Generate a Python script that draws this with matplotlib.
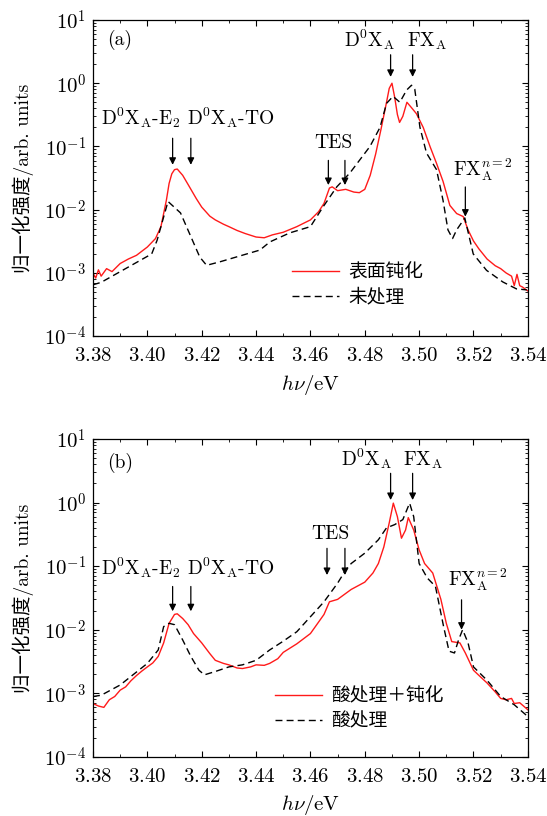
import math
import matplotlib
matplotlib.use('Agg')
import matplotlib.pyplot as plt
from matplotlib.ticker import MultipleLocator, FuncFormatter, LogLocator, NullFormatter

plt.rcParams['font.family'] = ['cmr10', 'Noto Sans CJK SC']
plt.rcParams['mathtext.fontset'] = 'cm'
plt.rcParams['axes.unicode_minus'] = False
plt.rcParams['axes.formatter.use_mathtext'] = True

# ---- panel (a) data ----
a_red_x = [3.380, 3.381, 3.382, 3.383, 3.385, 3.387, 3.390, 3.393, 3.396, 3.400,
           3.403, 3.405, 3.407, 3.408, 3.409, 3.410, 3.411, 3.413, 3.415, 3.418,
           3.420, 3.423, 3.425, 3.428, 3.430, 3.433, 3.436, 3.440, 3.443, 3.446,
           3.450, 3.455, 3.460, 3.463, 3.465, 3.467, 3.468, 3.470, 3.473, 3.476,
           3.478, 3.480, 3.482, 3.484, 3.486, 3.488, 3.489, 3.490, 3.491, 3.492,
           3.4928, 3.494, 3.4955, 3.497, 3.499, 3.5015, 3.504, 3.5064, 3.5088, 3.5113,
           3.5138, 3.5162, 3.518, 3.520, 3.522, 3.525, 3.528, 3.530, 3.532, 3.534,
           3.535, 3.536, 3.537, 3.538, 3.540]
a_red_y = [1.0e-3, 8.3e-4, 1.12e-3, 8.9e-4, 1.17e-3, 1.05e-3, 1.41e-3, 1.66e-3, 1.9e-3, 2.57e-3,
           3.5e-3, 5.4e-3, 0.0141, 0.026, 0.037, 0.043, 0.044, 0.035, 0.025, 0.015,
           0.011, 0.0079, 0.0069, 0.0059, 0.0054, 0.0047, 0.0042, 0.0037, 0.0036, 0.0040,
           0.0044, 0.0054, 0.0069, 0.0093, 0.0126, 0.022, 0.023, 0.020, 0.021, 0.019,
           0.0186, 0.021, 0.035, 0.076, 0.19, 0.50, 0.83, 1.0, 0.60, 0.32,
           0.24, 0.30, 0.50, 0.42, 0.33, 0.20, 0.10, 0.054, 0.028, 0.0117,
           0.0087, 0.0078, 0.0048, 0.0032, 0.0024, 0.00166, 0.0013, 0.00117, 1.0e-3, 8.9e-4,
           6.3e-4, 9.5e-4, 6.3e-4, 6.0e-4, 5.2e-4]

a_blk_x = [3.380, 3.383, 3.4016, 3.4036, 3.4076, 3.4122, 3.4193, 3.4218, 3.4267, 3.4414,
           3.4451, 3.4524, 3.460, 3.4646, 3.4697, 3.4745, 3.4819, 3.4856, 3.488, 3.4904,
           3.4929, 3.4954, 3.4972, 3.4984, 3.5003, 3.5027, 3.5064, 3.5088, 3.5106, 3.5123,
           3.5138, 3.5168, 3.5199, 3.5248, 3.5308, 3.5358, 3.5396]
a_blk_y = [6.5e-4, 7.1e-4, 2.0e-3, 3.3e-3, 0.0135, 0.0089, 1.78e-3, 1.32e-3, 1.5e-3, 2.3e-3,
           3.1e-3, 4.3e-3, 5.4e-3, 0.011, 0.023, 0.038, 0.10, 0.20, 0.48, 0.62,
           0.50, 0.78, 0.93, 0.80, 0.20, 0.079, 0.043, 0.014, 4.8e-3, 3.5e-3,
           4.8e-3, 7.4e-3, 2.0e-3, 1.1e-3, 7.2e-4, 5.6e-4, 5.4e-4]

# ---- panel (b) data ----
b_red_x = [3.380, 3.382, 3.384, 3.386, 3.388, 3.390, 3.392, 3.394, 3.396, 3.398,
           3.400, 3.402, 3.404, 3.406, 3.408, 3.410, 3.411, 3.413, 3.415, 3.417,
           3.420, 3.423, 3.425, 3.428, 3.430, 3.433, 3.435, 3.438, 3.440, 3.443,
           3.445, 3.448, 3.450, 3.455, 3.460, 3.465, 3.467, 3.470, 3.475, 3.480,
           3.483, 3.485, 3.487, 3.489, 3.4905, 3.492, 3.4935, 3.495, 3.496, 3.498,
           3.500, 3.502, 3.505, 3.508, 3.510, 3.512, 3.515, 3.517, 3.520, 3.523,
           3.525, 3.528, 3.530, 3.532, 3.534, 3.535, 3.537, 3.540]
b_red_y = [6.9e-4, 6.3e-4, 6.0e-4, 7.9e-4, 8.9e-4, 1.12e-3, 1.26e-3, 1.58e-3, 1.9e-3, 2.24e-3,
           2.6e-3, 3.0e-3, 3.8e-3, 6.2e-3, 0.0126, 0.0174, 0.0178, 0.015, 0.012, 8.7e-3,
           6.2e-3, 4.2e-3, 3.3e-3, 2.95e-3, 2.8e-3, 2.5e-3, 2.45e-3, 2.6e-3, 2.8e-3, 2.75e-3,
           2.95e-3, 3.5e-3, 4.4e-3, 6.0e-3, 8.7e-3, 0.0174, 0.0275, 0.030, 0.043, 0.056,
           0.078, 0.11, 0.20, 0.48, 0.98, 0.60, 0.275, 0.37, 0.58, 0.37,
           0.18, 0.11, 0.078, 0.030, 0.0126, 6.5e-3, 6.2e-3, 4.3e-3, 2.3e-3, 1.74e-3,
           1.45e-3, 1.05e-3, 8.3e-4, 7.9e-4, 8.3e-4, 6.9e-4, 7.1e-4, 5.5e-4]

b_blk_x = [3.380, 3.383, 3.390, 3.400, 3.404, 3.406, 3.408, 3.410, 3.413, 3.416,
           3.419, 3.421, 3.425, 3.430, 3.435, 3.440, 3.445, 3.450, 3.455, 3.460,
           3.465, 3.470, 3.473, 3.475, 3.480, 3.485, 3.488, 3.491, 3.494, 3.4965,
           3.498, 3.500, 3.503, 3.506, 3.509, 3.511, 3.513, 3.5145, 3.516, 3.518,
           3.520, 3.525, 3.530, 3.535, 3.540]
b_blk_y = [8.9e-4, 9.3e-4, 1.35e-3, 2.95e-3, 4.8e-3, 0.0112, 0.0126, 0.012, 6.9e-3, 3.8e-3,
           2.3e-3, 1.95e-3, 2.2e-3, 2.6e-3, 2.8e-3, 3.3e-3, 4.8e-3, 6.6e-3, 9.3e-3, 0.016,
           0.0275, 0.054, 0.087, 0.11, 0.16, 0.26, 0.40, 0.45, 0.54, 0.98,
           0.60, 0.11, 0.065, 0.048, 0.0112, 4.6e-3, 4.3e-3, 6.9e-3, 0.010, 6.2e-3,
           2.6e-3, 1.6e-3, 8.9e-4, 6.6e-4, 4.3e-4]

a_labels = ['表面钝化', '未处理']
b_labels = ['酸处理＋钝化', '酸处理']

FS_TICK = 15
FS_ANN = 14
FS_LAB = 14
FS_LEG = 13.5
CJK = ['Noto Sans CJK SC']


def arrow(ax, x, y0, y1):
    ax.annotate('', xy=(x, y1), xytext=(x, y0),
                arrowprops=dict(arrowstyle='-|>', color='k', lw=0.9,
                                mutation_scale=10, shrinkA=0, shrinkB=0))


def setup_axes(ax):
    ax.set_xlim(3.38, 3.54)
    ax.set_yscale('log')
    ax.set_ylim(1e-4, 1e1)
    ax.xaxis.set_major_locator(MultipleLocator(0.02))
    ax.xaxis.set_minor_locator(MultipleLocator(0.01))
    ax.xaxis.set_major_formatter(FuncFormatter(lambda v, p: f'${v:.2f}$'))
    ax.yaxis.set_major_locator(LogLocator(base=10, numticks=10))
    ax.yaxis.set_minor_locator(LogLocator(base=10, subs=range(2, 10), numticks=20))
    ax.yaxis.set_minor_formatter(NullFormatter())
    ax.yaxis.set_major_formatter(FuncFormatter(lambda v, p: r'$10^{%d}$' % round(math.log10(v))))
    ax.tick_params(which='both', direction='in', top=True, right=True, labelsize=FS_TICK)
    ax.tick_params(which='major', length=4.5, width=0.8)
    ax.tick_params(axis='x', which='major', pad=8)
    ax.tick_params(axis='y', which='major', pad=5)
    ax.tick_params(which='minor', length=2.3, width=0.6)
    for s in ax.spines.values():
        s.set_linewidth(0.9)
    ax.set_xlabel(r'$h\nu$/eV', fontsize=FS_TICK)
    ax.xaxis.set_label_coords(0.5, -0.115)
    ax.set_ylabel('归一化强度/arb. units', fontsize=FS_LAB)
    ax.yaxis.set_label_coords(-0.135, 0.5)


fig = plt.figure(figsize=(5.47, 8.16), dpi=100)
ax1 = fig.add_axes([0.170, 0.588, 0.795, 0.3875])
ax2 = fig.add_axes([0.170, 0.0725, 0.795, 0.3895])

# (a)
ax1.plot(a_red_x, a_red_y, color='#ff1a1a', lw=1.0, label=a_labels[0])
ax1.plot(a_blk_x, a_blk_y, color='k', lw=1.0, ls=(0, (5, 3)), label=a_labels[1])
setup_axes(ax1)
ax1.text(0.062, 0.937, '(a)', transform=ax1.transAxes, fontsize=FS_ANN, ha='center', va='center')
ax1.text(3.3975, 10**-0.74, r'D$^0$X$_\mathrm{A}$-E$_2$', fontsize=FS_ANN, ha='center', va='bottom')
ax1.text(3.4305, 10**-0.74, r'D$^0$X$_\mathrm{A}$-TO', fontsize=FS_ANN, ha='center', va='bottom')
arrow(ax1, 3.4093, 10**-0.87, 10**-1.29)
arrow(ax1, 3.416, 10**-0.87, 10**-1.29)
ax1.text(3.4683, 10**-1.09, 'TES', fontsize=FS_ANN, ha='center', va='bottom')
arrow(ax1, 3.4666, 10**-1.22, 10**-1.61)
arrow(ax1, 3.4727, 10**-1.22, 10**-1.61)
ax1.text(3.4819, 10**0.5, r'D$^0$X$_\mathrm{A}$', fontsize=FS_ANN, ha='center', va='bottom')
ax1.text(3.5027, 10**0.5, r'FX$_\mathrm{A}$', fontsize=FS_ANN, ha='center', va='bottom')
arrow(ax1, 3.4895, 10**0.45, 10**0.1)
arrow(ax1, 3.4976, 10**0.45, 10**0.1)
ax1.text(3.5236, 10**-1.57, r'FX$_\mathrm{A}^{n=2}$', fontsize=FS_ANN, ha='center', va='bottom')
arrow(ax1, 3.517, 10**-1.64, 10**-2.11)
ax1.legend(loc='center left', bbox_to_anchor=(0.457, 0.163), frameon=False,
           prop={'family': CJK, 'size': FS_LEG}, handlelength=2.5, handletextpad=0.5,
           labelspacing=0.2, borderpad=0, borderaxespad=0)

# (b)
ax2.plot(b_red_x, b_red_y, color='#ff1a1a', lw=1.0, label=b_labels[0])
ax2.plot(b_blk_x, b_blk_y, color='k', lw=1.0, ls=(0, (5, 3)), label=b_labels[1])
setup_axes(ax2)
ax2.text(0.062, 0.924, '(b)', transform=ax2.transAxes, fontsize=FS_ANN, ha='center', va='center')
ax2.text(3.3975, 10**-1.22, r'D$^0$X$_\mathrm{A}$-E$_2$', fontsize=FS_ANN, ha='center', va='bottom')
ax2.text(3.4305, 10**-1.22, r'D$^0$X$_\mathrm{A}$-TO', fontsize=FS_ANN, ha='center', va='bottom')
arrow(ax2, 3.4093, 10**-1.32, 10**-1.71)
arrow(ax2, 3.416, 10**-1.32, 10**-1.71)
ax2.text(3.4672, 10**-0.63, 'TES', fontsize=FS_ANN, ha='center', va='bottom')
arrow(ax2, 3.4661, 10**-0.72, 10**-1.14)
arrow(ax2, 3.4727, 10**-0.72, 10**-1.14)
ax2.text(3.4807, 10**0.5, r'D$^0$X$_\mathrm{A}$', fontsize=FS_ANN, ha='center', va='bottom')
ax2.text(3.5014, 10**0.5, r'FX$_\mathrm{A}$', fontsize=FS_ANN, ha='center', va='bottom')
arrow(ax2, 3.4895, 10**0.46, 10**0.04)
arrow(ax2, 3.4976, 10**0.46, 10**0.04)
ax2.text(3.5217, 10**-1.42, r'FX$_\mathrm{A}^{n=2}$', fontsize=FS_ANN, ha='center', va='bottom')
arrow(ax2, 3.5156, 10**-1.53, 10**-2.0)
ax2.legend(loc='center left', bbox_to_anchor=(0.418, 0.153), frameon=False,
           prop={'family': CJK, 'size': FS_LEG}, handlelength=2.5, handletextpad=0.5,
           labelspacing=0.2, borderpad=0, borderaxespad=0)

fig.savefig('out.png', dpi=100)
